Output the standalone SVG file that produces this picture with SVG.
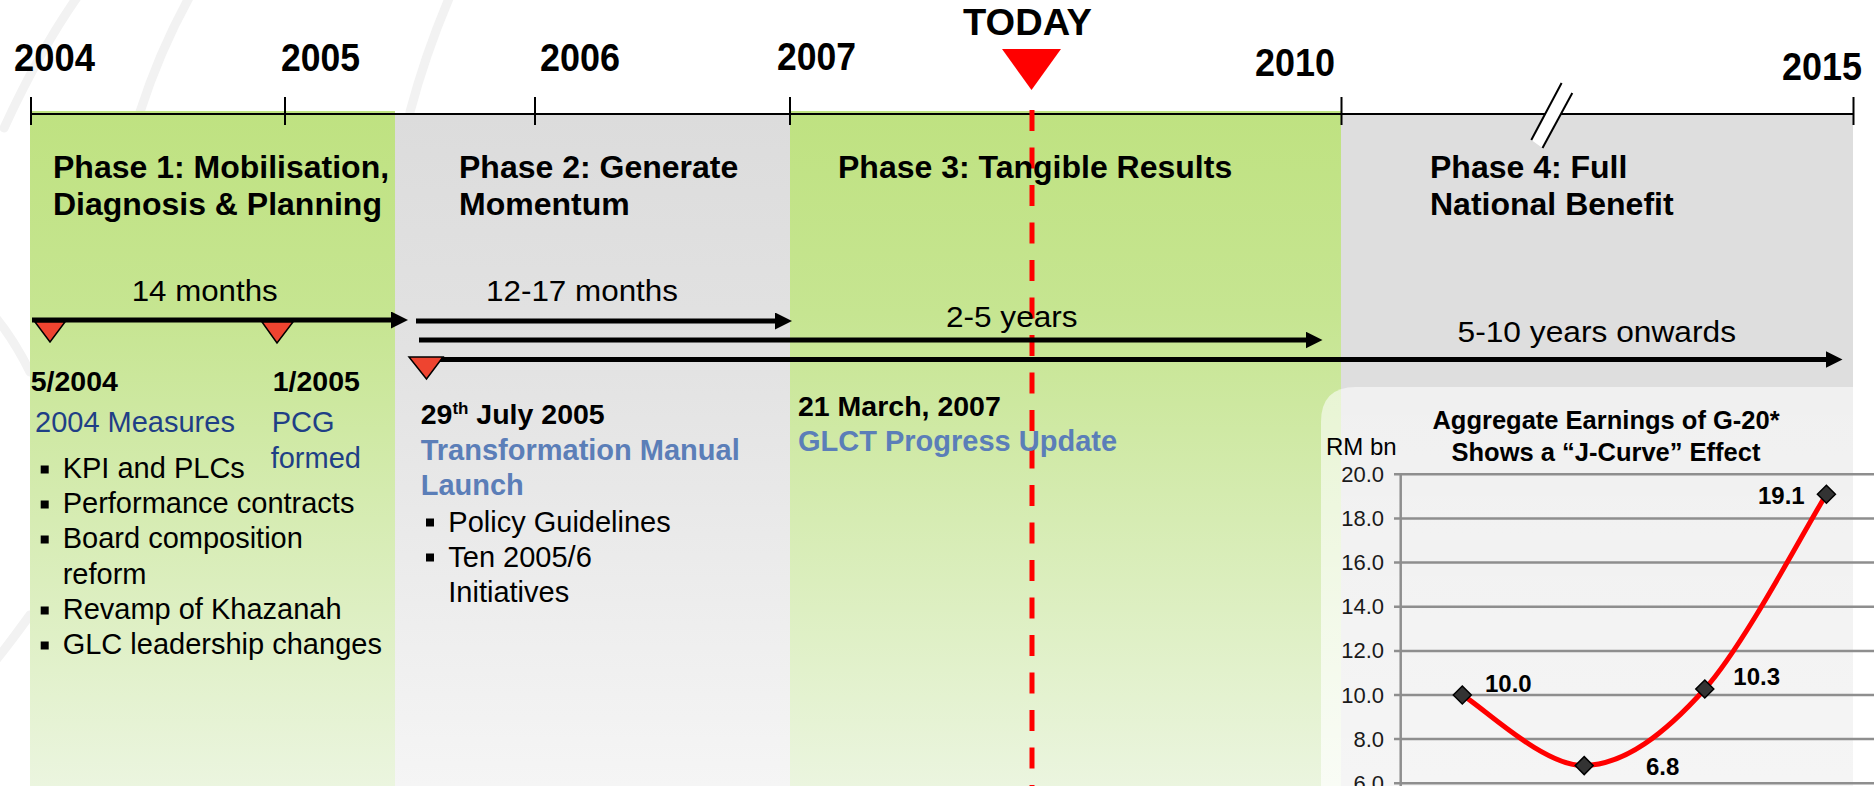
<svg xmlns="http://www.w3.org/2000/svg" width="1874" height="786" viewBox="0 0 1874 786">
  <defs>
    <linearGradient id="greenFade" x1="0" y1="0" x2="0" y2="1">
      <stop offset="0" stop-color="#BFE281"/>
      <stop offset="0.3" stop-color="#C6E591"/>
      <stop offset="1" stop-color="#EBF5DF"/>
    </linearGradient>
    <linearGradient id="greyFade" x1="0" y1="0" x2="0" y2="1">
      <stop offset="0" stop-color="#DCDCDC"/>
      <stop offset="0.35" stop-color="#E2E2E2"/>
      <stop offset="1" stop-color="#F5F5F5"/>
    </linearGradient>
    <linearGradient id="panelFade" x1="0" y1="0" x2="0" y2="1">
      <stop offset="0" stop-color="#FFFFFF" stop-opacity="0.55"/>
      <stop offset="1" stop-color="#FFFFFF" stop-opacity="0.7"/>
    </linearGradient>
    <marker id="arrowHead" markerUnits="userSpaceOnUse" markerWidth="17" markerHeight="17" viewBox="0 0 17 17" refX="0.5" refY="8.5" orient="auto">
      <path d="M0,0 L17,8.5 L0,17 Z" fill="#000"/>
    </marker>
    <path id="diamond" d="M0,-9 L9,0 L0,9 L-9,0 Z"/>
  </defs>
  <style>
    text { font-family: "Liberation Sans", Arial, Helvetica, sans-serif; fill: #000; }
    .year { font-size: 38px; font-weight: bold; }
    .today { font-size: 36px; font-weight: bold; }
    .phase { font-size: 32px; font-weight: bold; }
    .span { font-size: 30px; }
    .date { font-size: 28.5px; font-weight: bold; }
    .body { font-size: 29px; }
    .navy { font-size: 29px; fill: #1F3F86; }
    .steel { font-size: 29px; font-weight: bold; fill: #5B7EB8; }
    .tick { stroke: #000; stroke-width: 2; }
    .mark { fill: #EE4430; stroke: #000; stroke-width: 1.5; stroke-linejoin: miter; }
    .dur { stroke: #000; stroke-width: 5; fill: none; marker-end: url(#arrowHead); }
    .bullet { fill: #000; }
    .grid { stroke: #8E8E8E; stroke-width: 2.5; }
    .axlab { font-size: 22px; fill: #1A1A1A; text-anchor: end; }
    .val { font-size: 24px; font-weight: bold; }
    .swoosh { fill: none; stroke: #F2F2F2; stroke-width: 9; stroke-linecap: round; }
  </style>

  <!-- page background and faint decorative swirls -->
  <rect x="0" y="0" width="1874" height="786" fill="#FFFFFF"/>
  <g id="backdrop">
    <path class="swoosh" d="M78,-4 Q40,50 4,128"/>
    <path class="swoosh" d="M190,-4 Q160,50 140,112"/>
    <path class="swoosh" d="M450,-4 Q425,55 410,112"/>
    <path class="swoosh" d="M-4,318 Q14,340 30,372"/>
    <path class="swoosh" d="M-4,660 Q12,640 30,615"/>
  </g>

  <!-- phase bands -->
  <g id="phase-bands">
    <rect x="30" y="111" width="365" height="675" fill="url(#greenFade)"/>
    <rect x="395" y="114" width="395" height="672" fill="url(#greyFade)"/>
    <rect x="790" y="111" width="551" height="675" fill="url(#greenFade)"/>
    <rect x="1341" y="114" width="512" height="672" fill="#DEDEDE"/>
  </g>

  <!-- time axis -->
  <g id="time-axis">
    <line x1="31" y1="114" x2="1854" y2="114" stroke="#000" stroke-width="2.2"/>
    <line class="tick" x1="31" y1="97" x2="31" y2="125"/>
    <line class="tick" x1="285" y1="97" x2="285" y2="125"/>
    <line class="tick" x1="535" y1="97" x2="535" y2="125"/>
    <line class="tick" x1="790" y1="97" x2="790" y2="125"/>
    <line class="tick" x1="1341.5" y1="97" x2="1341.5" y2="125"/>
    <line class="tick" x1="1853.5" y1="97" x2="1853.5" y2="125"/>
    <!-- axis break -->
    <polygon points="1561.6,83 1572.3,93 1542.5,148 1531.3,140" fill="#FFFFFF"/>
    <line class="tick" x1="1561.6" y1="83" x2="1531.3" y2="140"/>
    <line class="tick" x1="1572.3" y1="93" x2="1542.5" y2="148"/>
    <text class="year" x="14" y="71" textLength="81" lengthAdjust="spacingAndGlyphs">2004</text>
    <text class="year" x="281" y="71" textLength="79" lengthAdjust="spacingAndGlyphs">2005</text>
    <text class="year" x="540" y="71" textLength="80" lengthAdjust="spacingAndGlyphs">2006</text>
    <text class="year" x="777" y="70" textLength="79" lengthAdjust="spacingAndGlyphs">2007</text>
    <text class="year" x="1255" y="76" textLength="80" lengthAdjust="spacingAndGlyphs">2010</text>
    <text class="year" x="1782" y="80" textLength="80" lengthAdjust="spacingAndGlyphs">2015</text>
  </g>

  <!-- today marker -->
  <g id="today">
    <text class="today" x="963" y="35" textLength="129" lengthAdjust="spacingAndGlyphs">TODAY</text>
    <polygon points="1002,49 1061,49 1031.5,90" fill="#FF0000"/>
    <line x1="1032" y1="110" x2="1032" y2="786" stroke="#FF0000" stroke-width="5" stroke-dasharray="21 16.5"/>
  </g>

  <!-- phase 1 -->
  <g id="phase-1">
    <text class="phase" x="53" y="178">Phase 1: Mobilisation,</text>
    <text class="phase" x="53" y="215">Diagnosis &amp; Planning</text>
    <text class="span" x="131.7" y="300.7" textLength="146" lengthAdjust="spacingAndGlyphs">14 months</text>
    <text class="date" x="30.7" y="391">5/2004</text>
    <text class="date" x="272.7" y="391">1/2005</text>
    <text class="navy" x="35" y="431.7">2004 Measures</text>
    <text class="navy" x="271.7" y="431.7">PCG</text>
    <text class="navy" x="270.7" y="468.3">formed</text>
    <rect class="bullet" x="40.7" y="465.5" width="8" height="8"/>
    <text class="body" x="62.7" y="478.3">KPI and PLCs</text>
    <rect class="bullet" x="40.7" y="500.5" width="8" height="8"/>
    <text class="body" x="62.7" y="513.3">Performance contracts</text>
    <rect class="bullet" x="40.7" y="535.5" width="8" height="8"/>
    <text class="body" x="62.7" y="548.3">Board composition</text>
    <text class="body" x="62.7" y="584">reform</text>
    <rect class="bullet" x="40.7" y="606.5" width="8" height="8"/>
    <text class="body" x="62.7" y="619.3">Revamp of Khazanah</text>
    <rect class="bullet" x="40.7" y="641.5" width="8" height="8"/>
    <text class="body" x="62.7" y="654.3">GLC leadership changes</text>
  </g>

  <!-- phase 2 -->
  <g id="phase-2">
    <text class="phase" x="459" y="178">Phase 2: Generate</text>
    <text class="phase" x="459" y="215">Momentum</text>
    <text class="span" x="486" y="300.7" textLength="192" lengthAdjust="spacingAndGlyphs">12-17 months</text>
    <text class="date" x="420.7" y="424">29<tspan font-size="17" dy="-10">th</tspan><tspan dy="10"> July 2005</tspan></text>
    <text class="steel" x="420.7" y="460">Transformation Manual</text>
    <text class="steel" x="420.7" y="495">Launch</text>
    <rect class="bullet" x="426" y="518.5" width="8" height="8"/>
    <text class="body" x="448.3" y="531.7">Policy Guidelines</text>
    <rect class="bullet" x="426" y="553.5" width="8" height="8"/>
    <text class="body" x="448.3" y="566.7">Ten 2005/6</text>
    <text class="body" x="448.3" y="601.7">Initiatives</text>
  </g>

  <!-- phase 3 -->
  <g id="phase-3">
    <text class="phase" x="838" y="178">Phase 3: Tangible Results</text>
    <text class="span" x="946" y="326.7" textLength="131.5" lengthAdjust="spacingAndGlyphs">2-5 years</text>
    <text class="date" x="798" y="416">21 March, 2007</text>
    <text class="steel" x="798" y="451">GLCT Progress Update</text>
  </g>

  <!-- phase 4 -->
  <g id="phase-4">
    <text class="phase" x="1430" y="178">Phase 4: Full</text>
    <text class="phase" x="1430" y="215">National Benefit</text>
    <text class="span" x="1457.5" y="341.7" textLength="278.5" lengthAdjust="spacingAndGlyphs">5-10 years onwards</text>
  </g>

  <!-- duration arrows and milestone markers -->
  <g id="connectors">
    <line class="dur" x1="32" y1="320" x2="391.5" y2="320"/>
    <line class="dur" x1="416" y1="321" x2="775.5" y2="321"/>
    <line class="dur" x1="419" y1="340" x2="1306" y2="340"/>
    <line class="dur" x1="420" y1="359.5" x2="1826" y2="359.5"/>
    <polygon class="mark" points="35,322 65,322 50,342"/>
    <polygon class="mark" points="262,322 293,322 277,343"/>
    <polygon class="mark" points="409,357 443,357 426.5,379"/>
  </g>

  <!-- earnings chart -->
  <g id="chart">
    <path d="M1321,786 L1321,422 Q1321,387 1356,387 L1853,387 L1853,786 Z" fill="url(#panelFade)"/>
    <text x="1606" y="429.3" text-anchor="middle" font-size="25.5" font-weight="bold">Aggregate Earnings of G-20*</text>
    <text x="1606" y="461" text-anchor="middle" font-size="25.5" font-weight="bold">Shows a “J-Curve” Effect</text>
    <text x="1326" y="455" font-size="24">RM bn</text>
    <g id="grid">
      <line class="grid" x1="1394" y1="474.3" x2="1874" y2="474.3"/>
      <line class="grid" x1="1394" y1="518.4" x2="1874" y2="518.4"/>
      <line class="grid" x1="1394" y1="562.6" x2="1874" y2="562.6"/>
      <line class="grid" x1="1394" y1="606.7" x2="1874" y2="606.7"/>
      <line class="grid" x1="1394" y1="650.9" x2="1874" y2="650.9"/>
      <line class="grid" x1="1394" y1="695" x2="1874" y2="695"/>
      <line class="grid" x1="1394" y1="739.1" x2="1874" y2="739.1"/>
      <line class="grid" x1="1394" y1="783.3" x2="1874" y2="783.3"/>
      <line class="grid" x1="1400.7" y1="473" x2="1400.7" y2="786"/>
    </g>
    <g id="y-labels">
      <text class="axlab" x="1384" y="481.8">20.0</text>
      <text class="axlab" x="1384" y="525.9">18.0</text>
      <text class="axlab" x="1384" y="570.1">16.0</text>
      <text class="axlab" x="1384" y="614.2">14.0</text>
      <text class="axlab" x="1384" y="658.4">12.0</text>
      <text class="axlab" x="1384" y="702.5">10.0</text>
      <text class="axlab" x="1384" y="746.6">8.0</text>
      <text class="axlab" x="1384" y="790.8">6.0</text>
    </g>
    <path d="M1462.3,695 C1482.6,706.8 1543.8,766.6 1584.2,765.6 C1624.6,764.6 1664.4,734.2 1704.8,689 C1745.2,643.8 1806.1,526.7 1826.4,494.2" fill="none" stroke="#FF0000" stroke-width="5" stroke-linejoin="round" stroke-linecap="round"/>
    <g id="points" fill="#333333" stroke="#000" stroke-width="1.5">
      <use href="#diamond" x="1462.3" y="695"/>
      <use href="#diamond" x="1584.2" y="765.6"/>
      <use href="#diamond" x="1704.8" y="689"/>
      <use href="#diamond" x="1826.4" y="494.2"/>
    </g>
    <text class="val" x="1485" y="691.7">10.0</text>
    <text class="val" x="1646" y="775">6.8</text>
    <text class="val" x="1733.3" y="685">10.3</text>
    <text class="val" x="1758" y="504">19.1</text>
  </g>
</svg>
